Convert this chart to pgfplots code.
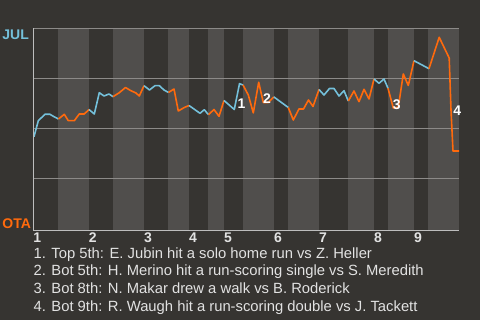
\documentclass[border=0pt]{standalone}
\usepackage{pgfplots}
\pgfplotsset{compat=1.18}
\usepackage{fontspec}
\setmainfont{Liberation Sans}
\definecolor{bg}{HTML}{363431}
\definecolor{band}{HTML}{504E4C}
\definecolor{gridc}{HTML}{8C8A88}
\definecolor{axc}{HTML}{BDBDBD}
\definecolor{jul}{HTML}{74C0DA}
\definecolor{ota}{HTML}{FF6A0D}
\definecolor{txt}{HTML}{E2E2E2}
\begin{document}
\begin{tikzpicture}[x=1pt,y=1pt]
\fill[bg] (0,0) rectangle (480,320);
\begin{axis}[at={(33.3pt,90pt)}, anchor=south west, scale only axis,
  width=425.7pt, height=201.7pt,
  xmin=33.3, xmax=459, ymin=-0.85, ymax=100,
  clip=false, axis on top,
  axis x line*=bottom, axis y line*=left,
  axis line style={-, draw=axc, line width=0.9pt},
  ytick=\empty,
  xtick={33.3,88.7,144,189,224,274,319,374,414},
  xticklabels={\textbf{1},\textbf{2},\textbf{3},\textbf{4},\textbf{5},\textbf{6},\textbf{7},\textbf{8},\textbf{9}},
  major tick length=0pt,
  xticklabel style={anchor=base west, yshift=-12.3pt, font=\bfseries\fontsize{14}{14}\selectfont, text=txt, inner sep=0pt},
  jul/.style={draw=jul, line width=1.6pt, mark=none, line join=round},
  ota/.style={draw=ota, line width=1.6pt, mark=none, line join=round},
  bandst/.style={fill=band, draw=none, mark=none},
  gl/.style={draw=gridc, line width=0.9pt, mark=none},
]
% half-inning shading (bottom halves)
\addplot[bandst] coordinates {(58,-0.85)(58,100)(88.7,100)(88.7,-0.85)};
\addplot[bandst] coordinates {(113,-0.85)(113,100)(144,100)(144,-0.85)};
\addplot[bandst] coordinates {(168,-0.85)(168,100)(189,100)(189,-0.85)};
\addplot[bandst] coordinates {(208,-0.85)(208,100)(224,100)(224,-0.85)};
\addplot[bandst] coordinates {(242.7,-0.85)(242.7,100)(274,100)(274,-0.85)};
\addplot[bandst] coordinates {(288,-0.85)(288,100)(319,100)(319,-0.85)};
\addplot[bandst] coordinates {(348,-0.85)(348,100)(374,100)(374,-0.85)};
\addplot[bandst] coordinates {(388,-0.85)(388,100)(414,100)(414,-0.85)};
\addplot[bandst] coordinates {(428,-0.85)(428,100)(459,100)(459,-0.85)};
% grid lines
\addplot[gl] coordinates {(33.3,25)(459,25)};
\addplot[gl] coordinates {(33.3,50)(459,50)};
\addplot[gl] coordinates {(33.3,75)(459,75)};
\addplot[gl] coordinates {(33.3,100)(459,100)};
% win probability line
\addplot[jul] coordinates {(34,45.8)(38.3,53.8)(45,57.0)(50,57.0)(54,55.8)(58.5,54.65)};
\addplot[ota] coordinates {(58.5,54.65)(64.3,57.0)(68.3,53.8)(74.3,53.8)(79.3,57.15)(84.3,57.15)(89,59.4)};
\addplot[jul] coordinates {(89,59.4)(94.3,57.15)(99.3,67.8)(104,66.15)(109,67.15)(113,65.8)};
\addplot[ota] coordinates {(113,65.8)(119.3,67.8)(125.5,70.4)(130.5,68.9)(136,67.65)(139.3,66.15)(144,71.3)};
\addplot[jul] coordinates {(144,71.3)(149.5,69.15)(155,71.3)(159.3,71.3)(164,69.15)(168.5,67.9)};
\addplot[ota] coordinates {(168.5,67.9)(174,69.65)(178.3,58.65)(184.3,60.4)(189,61.4)};
\addplot[jul] coordinates {(189,61.4)(200,57.5)(204.3,59.3)(208.5,56.8)};
\addplot[ota] coordinates {(208.5,56.8)(214,59.4)(219,56.0)(224,63.9)};
\addplot[jul] coordinates {(224,63.9)(234.3,59.4)(239.5,72.3)(243,71.65)};
\addplot[ota] coordinates {(243,71.65)(248.3,66.65)(253.3,57.7)(258.7,73.0)(263.3,62.9)(268.3,62.9)(273.8,65.7)};
\addplot[jul] coordinates {(273.8,65.7)(288.3,60.4)};
\addplot[ota] coordinates {(288.3,60.4)(293.3,54.15)(299,59.65)(303.5,59.65)(308.5,64.15)(313,60.9)(319,69.4)};
\addplot[jul] coordinates {(319,69.4)(324,66.65)(329.5,69.9)(334,69.9)(339,66.15)(344,68.8)(348.3,63.65)};
\addplot[ota] coordinates {(348.3,63.65)(354,68.65)(359,63.3)(364,69.5)(369,64.65)(374,74.65)};
\addplot[jul] coordinates {(374,74.65)(379,72.5)(384,74.65)(388,70.0)};
\addplot[ota] coordinates {(388,70.0)(393.3,60.15)(398.3,60.5)(403.3,77.15)(408.3,71.4)(414,83.8)};
\addplot[jul] coordinates {(414,83.8)(429,79.8)};
\addplot[ota] coordinates {(429,79.8)(439.2,95.5)(449.2,85.15)(451,59.15)(453,38.65)(459,38.65)};
% event markers
\node[text=white, font=\bfseries\fontsize{14}{14}\selectfont, inner sep=0pt] at (axis cs:241.5,62.5) {1};
\node[text=white, font=\bfseries\fontsize{14}{14}\selectfont, inner sep=0pt] at (axis cs:267,65.0) {2};
\node[text=white, font=\bfseries\fontsize{14}{14}\selectfont, inner sep=0pt] at (axis cs:396.7,61.8) {3};
\node[text=white, font=\bfseries\fontsize{14}{14}\selectfont, inner sep=0pt] at (axis cs:457.2,58.65) {4};
\end{axis}
\node[anchor=base west, inner sep=0pt, text=jul, font=\bfseries\fontsize{14}{14}\selectfont] at (2.2,280.7) {JUL};
\node[anchor=base west, inner sep=0pt, text=ota, font=\bfseries\fontsize{14}{14}\selectfont] at (2.2,91.7) {OTA};
\begin{scope}[every node/.style={anchor=base west, inner sep=0pt, text=txt, font=\fontsize{14.8}{14.8}\selectfont}]
\node at (33.4,61.7) {1. Top 5th: E. Jubin hit a solo home run vs Z. Heller};
\node at (33.4,44.0) {2. Bot 5th: H. Merino hit a run-scoring single vs S. Meredith};
\node at (33.4,26.1) {3. Bot 8th: N. Makar drew a walk vs B. Roderick};
\node at (33.4,8.2) {4. Bot 9th: R. Waugh hit a run-scoring double vs J. Tackett};
\end{scope}
\pgfresetboundingbox
\path[use as bounding box] (0,0) rectangle (480,320);
\end{tikzpicture}
\end{document}
